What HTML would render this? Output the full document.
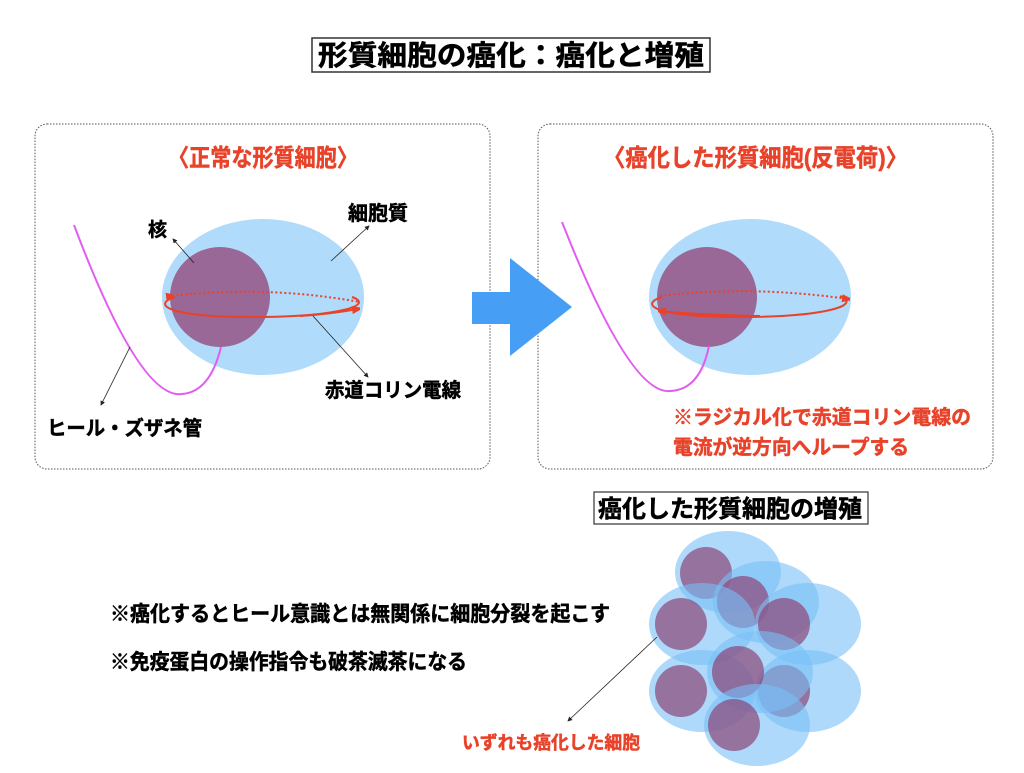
<!DOCTYPE html>
<html><head><meta charset="utf-8"><style>
body{margin:0;background:#fff}
svg text{font-family:"Liberation Sans","Noto Sans CJK JP",sans-serif;font-weight:bold;stroke-width:0.5}
</style></head><body>
<svg width="1024" height="768" viewBox="0 0 1024 768" xmlns="http://www.w3.org/2000/svg">
<defs>
<marker id="ah" markerWidth="6" markerHeight="6" refX="5" refY="3" orient="auto"><path d="M0,0 L6,3 L0,6z" fill="#222"/></marker>
<marker id="rh" markerWidth="8" markerHeight="8" refX="6" refY="4" orient="auto" markerUnits="userSpaceOnUse"><path d="M0,0 L12,4 L0,8z" fill="#e8432a"/></marker>
</defs>
<rect x="312" y="38" width="398" height="34" fill="#fff" stroke="#333" stroke-width="1.5"/>
<text x="511" y="65" font-size="28" text-anchor="middle" fill="#000" stroke="#000" textLength="386" lengthAdjust="spacingAndGlyphs">形質細胞の癌化：癌化と増殖</text>

<rect x="35" y="124" width="455" height="345" rx="12" fill="none" stroke="#555" stroke-dasharray="1.5,1.5"/>
<rect x="538" y="124" width="455" height="345" rx="12" fill="none" stroke="#555" stroke-dasharray="1.5,1.5"/>
<text x="168" y="166" font-size="24" fill="#e8432a" stroke="#e8432a" textLength="190" lengthAdjust="spacingAndGlyphs">〈正常な形質細胞〉</text>
<text x="603" y="166" font-size="24" fill="#e8432a" stroke="#e8432a" textLength="305" lengthAdjust="spacingAndGlyphs">〈癌化した形質細胞(反電荷)〉</text>

<!-- left cell -->
<ellipse cx="263" cy="297" rx="101" ry="78" fill="#b0dbfa"/>
<circle cx="220" cy="297" r="50" fill="#996896"/>
<path d="M74,225 Q140,400 182,394 Q210,392 221,347" fill="none" stroke="#e35cf0" stroke-width="2"/>
<path d="M172,296 Q265,285 360,302" fill="none" stroke="#e8432a" stroke-width="2" stroke-dasharray="2,2.5" marker-start="url(#rh)"/>
<path d="M175,297 C150,305 170,318 263,317 C340,316 375,305 352,297" fill="none" stroke="#e8432a" stroke-width="2" />
<path d="M300,316 Q330,314 358,309" fill="none" stroke="#e8432a" stroke-width="2" marker-end="url(#rh)"/>
<line x1="194" y1="263" x2="173" y2="239" stroke="#222" stroke-width="0.8" marker-end="url(#ah)"/>
<line x1="331" y1="261" x2="369" y2="226" stroke="#222" stroke-width="0.8" marker-end="url(#ah)"/>
<line x1="313" y1="316" x2="368" y2="377" stroke="#222" stroke-width="0.8" marker-end="url(#ah)"/>
<line x1="130" y1="347" x2="101" y2="405" stroke="#222" stroke-width="0.8" marker-end="url(#ah)"/>
<text x="148" y="236" font-size="19" fill="#000" stroke="#000">核</text>
<text x="348" y="220" font-size="20" fill="#000" stroke="#000">細胞質</text>
<text x="325" y="397" font-size="20" fill="#000" stroke="#000" textLength="136" lengthAdjust="spacingAndGlyphs">赤道コリン電線</text>
<text x="47" y="435" font-size="20" fill="#000" stroke="#000" textLength="155" lengthAdjust="spacingAndGlyphs">ヒール・ズザネ管</text>

<!-- arrow -->
<path d="M472,292 L510,292 L510,258 L572,307 L510,356 L510,324 L472,324z" fill="#479ef5"/>

<!-- right cell -->
<ellipse cx="750" cy="297" rx="101" ry="78" fill="#b0dbfa"/>
<circle cx="707" cy="297" r="50" fill="#996896"/>
<path d="M562,222 Q630,395 670,391 Q700,390 709,346" fill="none" stroke="#e35cf0" stroke-width="2"/>
<path d="M660,296 Q750,285 848,299" fill="none" stroke="#e8432a" stroke-width="2" stroke-dasharray="2,2.5" marker-end="url(#rh)"/>
<path d="M662,297 C637,305 657,318 750,317 C827,316 862,305 840,296" fill="none" stroke="#e8432a" stroke-width="2"/>
<path d="M760,316 Q700,315 660,311" fill="none" stroke="#e8432a" stroke-width="2" marker-end="url(#rh)"/>
<text x="673" y="424" font-size="20" fill="#e8432a" stroke="#e8432a" textLength="298" lengthAdjust="spacingAndGlyphs">※ラジカル化で赤道コリン電線の</text>
<text x="673" y="454" font-size="20" fill="#e8432a" stroke="#e8432a" textLength="236" lengthAdjust="spacingAndGlyphs">電流が逆方向へループする</text>

<rect x="594" y="492" width="274" height="32" fill="#fff" stroke="#333" stroke-width="1.2"/>
<text x="598" y="517" font-size="24" fill="#000" stroke="#000" textLength="264" lengthAdjust="spacingAndGlyphs">癌化した形質細胞の増殖</text>

<text x="110" y="621" font-size="21" fill="#000" stroke="#000" textLength="500" lengthAdjust="spacingAndGlyphs">※癌化するとヒール意識とは無関係に細胞分裂を起こす</text>
<text x="110" y="669" font-size="21" fill="#000" stroke="#000" textLength="357" lengthAdjust="spacingAndGlyphs">※免疫蛋白の操作指令も破茶滅茶になる</text>

<!-- cluster -->
<g>
<ellipse cx="728" cy="572" rx="53" ry="41" fill="rgba(120,192,246,0.6)"/><circle cx="706" cy="573" r="26" fill="rgba(140,70,120,0.7)"/>
<ellipse cx="766" cy="602" rx="53" ry="41" fill="rgba(120,192,246,0.6)"/><circle cx="743" cy="602" r="26" fill="rgba(140,70,120,0.7)"/>
<ellipse cx="808" cy="624" rx="53" ry="41" fill="rgba(120,192,246,0.6)"/><circle cx="784" cy="624" r="26" fill="rgba(140,70,120,0.7)"/>
<ellipse cx="702" cy="624" rx="53" ry="41" fill="rgba(120,192,246,0.6)"/><circle cx="681" cy="624" r="26" fill="rgba(140,70,120,0.7)"/>
<ellipse cx="702" cy="691" rx="53" ry="41" fill="rgba(120,192,246,0.6)"/><circle cx="681" cy="691" r="26" fill="rgba(140,70,120,0.7)"/>
<ellipse cx="808" cy="691" rx="53" ry="41" fill="rgba(120,192,246,0.6)"/><circle cx="784" cy="691" r="26" fill="rgba(140,70,120,0.7)"/>
<ellipse cx="760" cy="672" rx="53" ry="41" fill="rgba(120,192,246,0.6)"/><circle cx="738" cy="672" r="26" fill="rgba(140,70,120,0.7)"/>
<ellipse cx="757" cy="725" rx="53" ry="41" fill="rgba(120,192,246,0.6)"/><circle cx="734" cy="725" r="26" fill="rgba(140,70,120,0.7)"/>
</g>
<line x1="657" y1="637" x2="568" y2="721" stroke="#222" stroke-width="0.8" marker-end="url(#ah)"/>
<text x="462" y="749" font-size="18" fill="#e8432a" stroke="#e8432a" textLength="178" lengthAdjust="spacingAndGlyphs">いずれも癌化した細胞</text>
</svg>
</body></html>
